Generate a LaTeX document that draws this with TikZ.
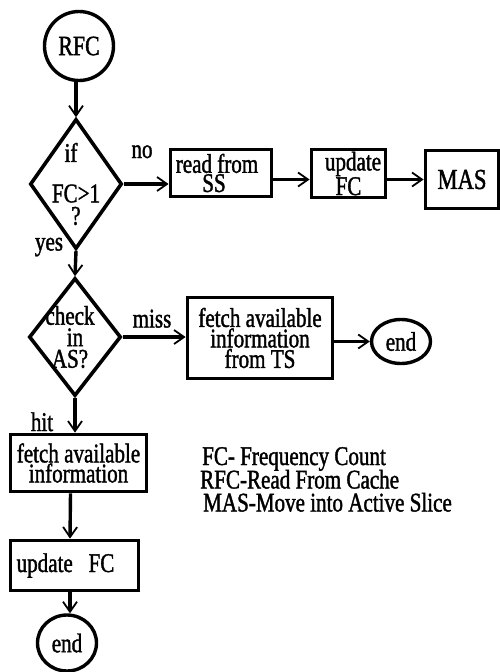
\documentclass[tikz,border=0pt]{standalone}
\usepackage{fontspec}
\setmainfont{Liberation Serif}[FakeStretch=0.78,FakeBold=1.4]
\usetikzlibrary{shapes.geometric,arrows.meta,calc}
\begin{document}
\begin{tikzpicture}[x=1pt,y=-1pt,
  every node/.style={font=\fontsize{27}{20}\selectfont, inner sep=0pt},
  box/.style={draw, line width=3.8pt, rectangle, align=center},
  dia/.style={draw, line width=3.6pt, diamond, align=center, inner sep=-15pt},
  term/.style={draw, line width=3.4pt, ellipse},
  arr/.style={line width=3.4pt, -{Straight Barb[length=10pt,width=14pt,line width=1.8pt]}},
  lbl/.style={anchor=base}
]
\path[use as bounding box, fill=white] (0,0) rectangle (500,672);

\node[draw, circle, line width=3.4pt, minimum size=69pt, font=\fontsize{28}{20}\selectfont] (rfc) at (79,46) {RFC};
\node[dia, minimum width=92pt, minimum height=130pt, font=\fontsize{27}{22.4}\selectfont] (d1) at (76,184) {if\hspace*{10pt}\\[18pt]FC>1\\?};
\node[dia, minimum width=92pt, minimum height=118pt, font=\fontsize{27}{21.5}\selectfont] (d2) at (75,337) {check\hspace*{10pt}\\in\hspace*{14pt}\\AS?\hspace*{10pt}};

\node[box, minimum width=101pt, minimum height=47pt, font=\fontsize{27}{18}\selectfont] (rss) at (221,173) {read from\hspace*{8pt}\\SS\hspace*{14pt}};
\node[box, minimum width=74pt, minimum height=48pt, font=\fontsize{27}{19}\selectfont] (uf1) at (348.5,173.5) {\hspace*{9pt}update\\FC};
\node[box, minimum width=73pt, minimum height=58pt, font=\fontsize{29}{20}\selectfont] (mas) at (462,179.5) {MAS};
\node[box, minimum width=145pt, minimum height=81pt, font=\fontsize{27}{20.5}\selectfont] (fts) at (260,338) {fetch available\\information\\from TS};
\node[term, minimum width=59pt, minimum height=44pt] (end1) at (401,341.5) {end};
\node[box, minimum width=136pt, minimum height=57pt] (fai) at (78.5,463) {fetch available\\information};
\node[box, minimum width=128pt, minimum height=50pt] (uf2) at (74.5,565.5) {update\ \ \ FC\hspace*{18pt}};
\node[term, minimum width=59pt, minimum height=56pt] (end2) at (67,643) {end};

\draw[arr] (d1.north |- rfc.south) -- (d1.north);
\draw[arr] (d1.east) -- (rss.west |- d1.east);
\draw[arr] (rss.east |- mas.west) -- (uf1.west |- mas.west);
\draw[arr] (uf1.east |- mas.west) -- (mas.west);
\draw[arr] (d1.south) -- (d2.north);
\draw[arr] (d2.east) -- (fts.west |- d2.east);
\draw[arr] (fts.east |- end1.west) -- (end1.west);
\draw[arr] (d2.south) -- (fai.north -| d2.south);
\draw[arr] ([xshift=-8pt]fai.south) -- ([xshift=-4.5pt]uf2.north);
\draw[arr] ([xshift=-4.5pt]uf2.south) -- ([xshift=3pt]end2.north);

\node[lbl] (no) at (142,158) {no};
\node[lbl] (yes) at (49,250.5) {yes};
\node[lbl] (miss) at (152,327.5) {miss};
\node[lbl] (hit) at (42,431) {hit};

\node[anchor=base west] (lg1) at (202,465) {FC- Frequency Count};
\node[anchor=base west] (lg2) at (200,488.5) {RFC-Read From Cache};
\node[anchor=base west] (lg3) at (203,511.5) {MAS-Move into Active Slice};
\end{tikzpicture}
\end{document}
